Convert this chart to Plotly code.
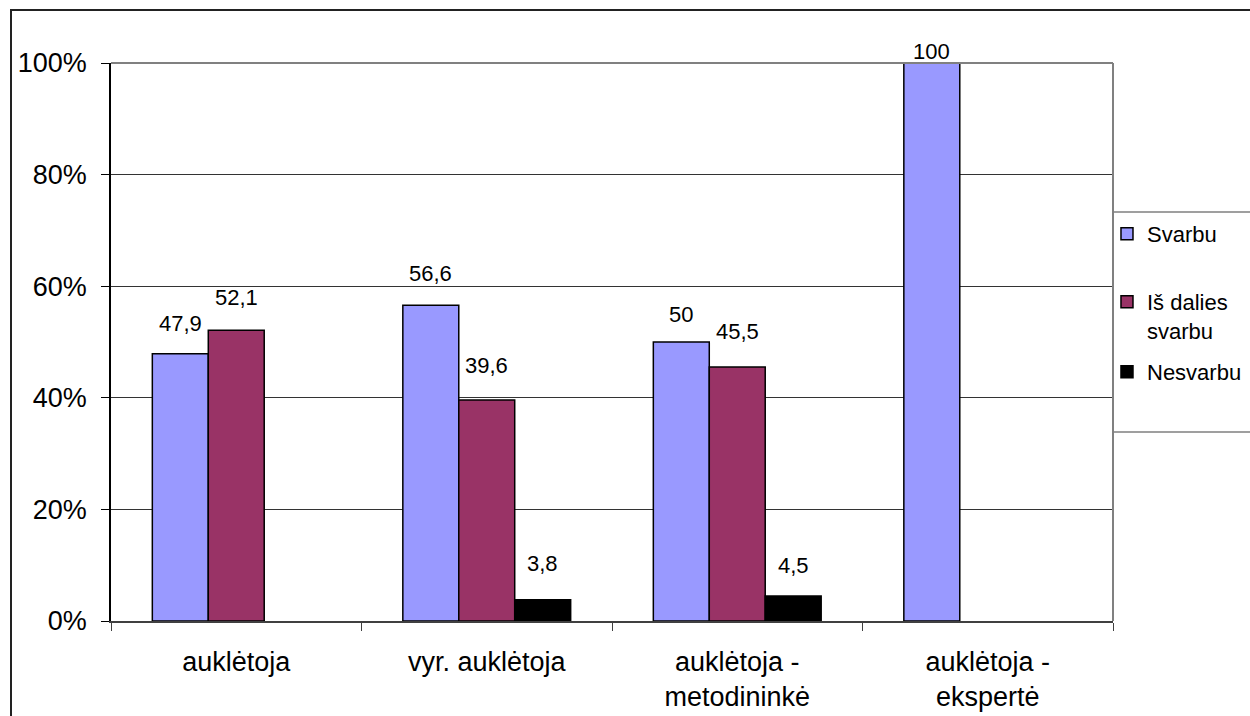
import plotly.graph_objects as go

categories = ["auklėtoja", "vyr. auklėtoja", "auklėtoja -<br>metodininkė", "auklėtoja -<br>ekspertė"]
series_names = ["Svarbu", "Iš dalies<br>svarbu", "Nesvarbu"]
svarbu = [47.9, 56.6, 50, 100]
is_dalies = [52.1, 39.6, 45.5, None]
nesvarbu = [None, 3.8, 4.5, None]
y_ticks = [0, 20, 40, 60, 80, 100]
y_tick_labels = ["0%", "20%", "40%", "60%", "80%", "100%"]

colors = ["#9999FF", "#993366", "#000000"]
series_values = [svarbu, is_dalies, nesvarbu]
legend_ids = ["legend", "legend2", "legend3"]
legend_tops = [213, 281, 351]
FONT = "Liberation Sans, Arial, sans-serif"

W, H = 1250, 716
ML, MR, MT, MB = 111, 137, 63, 95
pw, ph = W - ML - MR, H - MT - MB

fig = go.Figure()
for name, vals, col, lg in zip(series_names, series_values, colors, legend_ids):
    fig.add_trace(go.Bar(
        x=categories, y=vals, name=name, legend=lg,
        marker=dict(color=col, line=dict(color="#000000", width=1.5)),
    ))

# data labels
bar_px = pw / 4 * (1 - 0.33) / 3
xshifts = [-bar_px, 0, bar_px]
label_shift = [[30, 32, 28, 12], [33, 35, 36, 0], [0, 36, 30, 0]]
annotations = []
for si, vals in enumerate(series_values):
    for ci, v in enumerate(vals):
        if v is None:
            continue
        annotations.append(dict(
            x=categories[ci], y=v, xref="x", yref="y",
            text=f"{v:g}".replace(".", ","), showarrow=False,
            xshift=xshifts[si], yshift=label_shift[si][ci],
            font=dict(family=FONT, size=22, color="#000000"),
        ))

def px_x(p):
    return (p - ML) / pw

def px_y(p):
    return (MT + ph - p) / ph

shapes = [
    # outer chart border
    dict(type="rect", xref="paper", yref="paper",
         x0=px_x(11), x1=px_x(W + 20), y0=px_y(H + 20), y1=px_y(10),
         line=dict(color="#222222", width=2), fillcolor="rgba(0,0,0,0)", layer="above"),
    # plot area top and right border
    dict(type="line", xref="paper", yref="paper", x0=0, x1=1, y0=1, y1=1,
         line=dict(color="#808080", width=2)),
    dict(type="line", xref="paper", yref="paper", x0=1, x1=1, y0=0, y1=1,
         line=dict(color="#808080", width=2)),
    # legend box
    dict(type="rect", xref="paper", yref="paper",
         x0=px_x(1113), x1=px_x(W + 20), y0=px_y(432), y1=px_y(212),
         line=dict(color="#808080", width=1.5), fillcolor="rgba(0,0,0,0)", layer="above"),
]

legend_style = dict(
    x=0.994, xanchor="left", yanchor="top",
    borderwidth=0, bgcolor="rgba(255,255,255,0)",
    font=dict(family=FONT, size=22, color="#000000"),
    valign="top", itemwidth=30,
)

fig.update_layout(
    width=W, height=H,
    margin=dict(l=ML, r=MR, t=MT, b=MB, autoexpand=False),
    paper_bgcolor="#FFFFFF", plot_bgcolor="#FFFFFF",
    barmode="group", bargap=0.33, bargroupgap=0,
    font=dict(family=FONT, color="#000000"),
    showlegend=True,
    annotations=annotations,
    shapes=shapes,
    xaxis=dict(
        showgrid=False, showline=True, linecolor="#404040", linewidth=1.5,
        ticks="outside", tickson="boundaries", ticklen=8, tickcolor="#404040",
        tickfont=dict(family=FONT, size=27), ticklabelstandoff=16,
    ),
    yaxis=dict(
        range=[0, 100], tickvals=y_ticks, ticktext=y_tick_labels,
        showgrid=True, gridcolor="#333333", gridwidth=1,
        showline=True, linecolor="#000000", linewidth=1.5,
        ticks="outside", ticklen=8, tickcolor="#000000",
        tickfont=dict(family=FONT, size=27), ticklabelstandoff=9,
        zeroline=False,
    ),
)
for lg, top in zip(legend_ids, legend_tops):
    fig.update_layout({lg: dict(legend_style, y=px_y(top))})

fig.write_html("out.html", config={"displayModeBar": False},
               post_script="document.body.style.margin='0';")
